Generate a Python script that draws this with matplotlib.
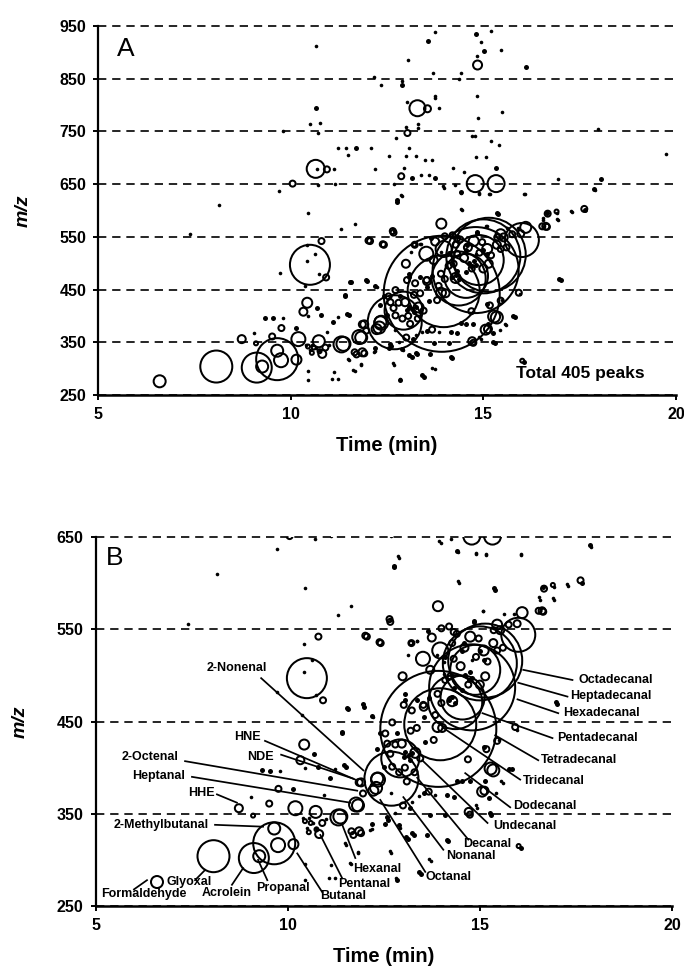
import matplotlib
matplotlib.use('Agg')
from matplotlib import pyplot as plt

plt.rcParams['font.family'] = ['Liberation Sans', 'DejaVu Sans']

# big bubbles: time, m/z, radius
big_time = [8.07, 9.12, 9.65, 10.5, 12.7, 12.93, 13.92, 13.97, 14.36, 14.55, 14.8, 14.88, 15.0, 15.14, 16.0]
big_mz = [304, 302, 318, 497, 388, 410, 442, 447, 471, 476, 487, 506, 513, 516, 544]
big_radius = [16, 15, 21, 20, 27, 19, 58, 36, 27, 22, 43, 25, 37, 37, 17]

# open rings
ring_time = [6.6, 9.26, 9.65, 9.75, 10.15, 13.29, 14.79, 15.33, 10.65, 13.55, 14.85, 13.03, 10.94, 12.87, 10.05,
             16.67, 16.65, 16.62, 13.91, 16.1, 15.97, 16.53, 14.0, 14.2, 14.32, 13.75, 13.22, 13.52, 12.99, 13.71,
             15.45, 15.53, 15.36, 14.75, 14.97, 15.1, 15.45, 14.28, 13.97, 14.32, 15.14, 14.23, 14.28, 13.02, 13.23,
             13.54, 13.36, 13.84, 14.02, 15.92, 12.54, 12.59, 12.97, 13.32, 12.67, 12.72, 13.05, 13.9, 13.53, 12.72,
             12.33, 12.23, 11.86, 11.96, 11.78, 11.37, 11.86, 11.66, 13.0, 14.71, 15.06, 15.28, 15.45, 14.69, 16.01,
             13.67, 16.9, 17.62, 12.65, 12.02, 12.39, 13.21, 12.06, 12.42, 12.67, 10.43, 10.33, 10.92, 9.76, 8.73,
             9.1, 9.52, 10.2, 10.73, 11.32, 11.83, 11.91, 12.35, 12.3, 10.82, 11.71, 11.91, 15.12, 15.35, 15.17,
             14.74, 10.8,
             14.4, 14.6, 14.9, 15.2, 15.35, 15.6, 15.75, 14.5, 14.7, 15.0, 14.1, 13.9, 14.0, 13.8, 13.2,
             13.1, 13.3, 12.9, 12.8, 13.45, 10.45, 10.6, 10.75, 10.55, 10.9]
ring_mz = [276, 304, 334, 316, 317, 794, 651, 651, 679, 793, 876, 747, 678, 665, 651,
           594, 569, 570, 575, 568, 556, 570, 551, 553, 547, 541, 535, 518, 499, 506,
           555, 549, 549, 542, 540, 527, 527, 535, 527, 518, 499, 499, 472, 468, 462,
           466, 443, 457, 443, 444, 437, 426, 426, 416, 415, 449, 400, 444, 468, 401,
           388, 375, 384, 372, 360, 347, 331, 331, 359, 352, 374, 399, 429, 409, 315,
           374, 598, 603, 561, 543, 536, 535, 542, 535, 558, 425, 408, 473, 377, 356,
           348, 361, 356, 352, 346, 359, 384, 387, 378, 328, 327, 329, 375, 397, 420,
           349, 542,
           545, 530, 520, 515, 535, 530, 555, 510, 490, 490, 495, 480, 470, 430, 440,
           385, 395, 395, 425, 410, 342, 340, 333, 330, 340]
ring_radius = [6, 6, 6, 7, 5, 8, 8.5, 8.5, 9, 3.5, 4.5, 3, 3, 3, 3,
               3, 3, 3.5, 5, 5.5, 3.5, 3, 3, 3, 3, 4, 3, 7, 4, 4,
               5, 4, 3, 5, 3, 5, 3, 3, 8, 3, 4, 3, 5, 3, 3,
               4, 3, 3, 4, 3, 3, 3, 4, 5, 3, 3, 3, 5, 3, 3,
               6, 5, 3.5, 3, 7, 7, 4, 3, 3, 4, 5, 6, 3, 3, 2,
               3, 2, 3, 3, 3, 3, 2, 3, 3, 3, 5, 4, 3, 3, 4,
               2, 3, 7, 6, 8, 6, 4, 7, 6, 4, 3, 3, 4, 6, 3,
               3, 3,
               3, 4, 3, 3, 4, 3, 3, 4, 3, 4, 3, 3, 3, 3, 3,
               3, 3, 3, 3, 3, 2, 2, 2, 2, 3]

# larger solid dots
heavy_time = [14.82, 13.57, 15.02, 16.12, 12.9, 10.65, 11.7, 15.32, 13.15, 13.74, 18.06, 12.77, 15.39, 17.65, 14.84,
              14.41, 17.86, 12.76, 15.36, 16.65, 14.84, 13.65, 14.1, 14.62, 14.75, 14.71, 14.8, 14.54, 14.32, 14.28,
              14.19, 14.36, 13.06, 13.06, 13.36, 13.67, 13.54, 11.54, 11.95, 12.2, 11.41, 12.41, 12.85, 13.58, 12.32,
              13.06, 13.15, 13.24, 13.02, 13.19, 12.5, 11.47, 13.18, 13.54, 14.15, 14.32, 13.71, 14.1, 12.59, 12.54,
              12.89, 12.2, 13.08, 13.24, 14.15, 14.41, 14.54, 14.74, 15.13, 15.25, 15.26, 15.77, 15.1, 13.41, 16.97,
              14.18, 16.06, 17.02, 15.83, 15.3, 13.46, 12.85, 12.6, 13.14, 13.29, 13.62, 11.57, 11.98, 11.42, 10.68,
              10.8, 9.34, 9.54, 11.09, 11.51, 10.13, 15.0, 15.1, 14.58, 14.54]
heavy_mz = [934, 921, 902, 872, 839, 795, 719, 681, 662, 662, 660, 617, 593, 600, 559,
            635, 641, 619, 595, 596, 558, 548, 520, 500, 504, 495, 497, 484, 486, 477,
            473, 470, 480, 473, 473, 475, 455, 465, 469, 456, 439, 437, 438, 428, 420,
            417, 414, 416, 412, 408, 401, 403, 356, 372, 370, 368, 349, 349, 346, 339,
            338, 339, 325, 329, 322, 386, 385, 385, 385, 367, 351, 399, 422, 287, 471,
            321, 313, 469, 398, 349, 285, 278, 343, 323, 327, 327, 464, 466, 438, 415,
            401, 397, 396, 389, 401, 377, 526, 517, 535, 526]

# small solid dots
dot_time = [10.65, 13.74, 15.19, 14.93, 15.47, 14.84, 13.04, 13.69, 14.43, 14.36, 12.16, 12.35, 12.9, 13.74, 13.74,
            14.83, 13.02, 13.85, 15.49, 14.87, 10.5, 10.77, 13.31, 13.31, 13.0, 17.98, 9.81, 10.7, 14.7, 14.79,
            12.73, 15.19, 15.4, 11.24, 11.43, 12.08, 11.49, 13.06, 12.55, 12.99, 13.25, 13.48, 13.67, 14.8, 15.08,
            19.73, 11.12, 10.68, 12.2, 12.95, 14.2, 14.49, 13.37, 13.6, 16.95, 17.89, 10.7, 11.14, 9.71, 12.68,
            13.98, 14.26, 14.43, 14.9, 15.17, 16.08, 12.89, 8.15, 14.45, 10.45, 16.92, 17.3, 16.56, 16.93, 11.66,
            11.3, 12.67, 13.95, 14.89, 15.15, 16.06, 12.87, 14.43, 17.27, 16.55, 16.9, 15.09, 15.62, 13.37, 15.08,
            15.9, 13.36, 13.12, 13.89, 14.06, 14.06, 14.8, 7.4, 10.63, 10.43, 10.43, 9.72, 10.73, 10.38, 12.23,
            10.45, 11.24, 11.51, 9.79, 9.05, 10.94, 10.4, 10.55, 10.65, 10.75, 10.5, 11.0, 10.44, 10.44, 11.12,
            11.07, 11.24, 11.51, 11.83, 11.66, 12.2, 12.92, 12.68, 13.74, 12.7, 13.24, 13.41, 13.84, 14.89, 12.8,
            12.15, 15.55, 15.13, 15.42, 15.6, 15.49, 15.96, 14.93, 13.67, 12.65, 12.83, 11.82, 11.63, 11.5]
dot_mz = [913, 939, 940, 920, 905, 894, 886, 861, 860, 849, 854, 839, 846, 817, 813,
          817, 805, 794, 786, 775, 764, 766, 764, 756, 759, 755, 750, 747, 742, 742,
          737, 732, 724, 718, 718, 719, 706, 718, 703, 703, 703, 695, 695, 702, 702,
          708, 678, 678, 678, 681, 681, 673, 668, 668, 660, 639, 648, 651, 637, 651,
          643, 648, 634, 632, 631, 631, 627, 610, 600, 595, 596, 597, 582, 582, 575,
          565, 561, 646, 633, 632, 632, 629, 602, 599, 585, 584, 570, 566, 537, 570,
          566, 537, 522, 522, 515, 502, 517, 556, 517, 504, 534, 482, 479, 457, 455,
          400, 398, 401, 396, 368, 370, 345, 345, 340, 335, 335, 344, 278, 296, 294,
          280, 280, 316, 307, 295, 333, 335, 307, 299, 373, 363, 369, 370, 360, 351,
          332, 385, 385, 373, 383, 430, 441, 356, 301, 310, 280, 309, 297, 318]

# label text, text position, leader line start and end
compound_names = ['Octadecanal', 'Heptadecanal', 'Hexadecanal', 'Pentadecanal', 'Tetradecanal', 'Tridecanal',
                  'Dodecanal', 'Undecanal', 'Decanal', 'Nonanal', 'Octanal', 'Hexanal', 'Pentanal', 'Butanal',
                  'Propanal', 'Acrolein', 'Glyoxal', 'Formaldehyde', '2-Methylbutanal', 'HHE', 'Heptanal',
                  '2-Octenal', 'NDE', 'HNE', '2-Nonenal']
name_x = [17.57, 17.36, 17.17, 17.02, 16.6, 16.11, 15.87, 15.35, 14.57, 14.13, 13.58, 11.71, 11.32, 10.85,
          9.18, 7.75, 6.86, 5.14, 5.46, 7.41, 5.95, 5.69, 8.95, 8.61, 7.88]
name_y = [495, 478, 459, 432, 408, 386, 358, 337, 317, 304, 281, 290, 274, 261,
          270, 264, 276, 263, 338, 372, 391, 412, 412, 433, 508]
line_x0 = [16.13, 16.0, 15.98, 15.07, 15.4, 14.05, 14.62, 13.5, 13.37, 13.01, 12.41, 11.42, 10.85, 10.25,
           9.23, 8.84, 7.85, 6.34, 8.11, 8.16, 7.51, 7.33, 9.83, 9.41, 9.31]
line_y0 = [506, 492, 474, 459, 435, 443, 394, 408, 389, 368, 365, 338, 327, 307,
           300, 291, 289, 278, 338, 371, 390, 407, 414, 429, 497]
line_x1 = [17.41, 17.28, 17.04, 16.89, 16.52, 16.05, 15.79, 15.2, 14.7, 14.05, 13.58, 11.76, 11.42, 10.9,
           9.47, 8.55, 7.59, 6.0, 9.36, 8.68, 11.63, 11.81, 11.71, 11.76, 11.97]
line_y1 = [495, 477, 459, 432, 408, 387, 357, 340, 322, 311, 287, 302, 280, 265,
           278, 273, 278, 268, 336, 362, 362, 375, 388, 387, 397]

xticks = [5, 10, 15, 20]
yticks_a = [250, 350, 450, 550, 650, 750, 850, 950]
yticks_b = [250, 350, 450, 550, 650]

W, H = 684, 973


def area(r):
    # radius in image pixels to scatter area
    return (2 * r * 0.72) ** 2


def draw_peaks(ax):
    ax.scatter(big_time, big_mz, s=[area(r) for r in big_radius], facecolors='none', edgecolors='black', linewidths=1.45, zorder=3)
    ax.scatter(ring_time, ring_mz, s=[area(r) for r in ring_radius], facecolors='none', edgecolors='black', linewidths=1.45, zorder=3)
    ax.scatter(heavy_time, heavy_mz, s=area(2.5), color='black', linewidths=0, zorder=3)
    ax.scatter(dot_time, dot_mz, s=area(1.8), color='black', linewidths=0, zorder=3)


def setup(ax, yticks):
    ax.set_xlim(5, 20)
    ax.set_ylim(yticks[0], yticks[-1])
    ax.set_xticks(xticks)
    ax.set_yticks(yticks)
    ax.spines['top'].set_visible(False)
    ax.spines['right'].set_visible(False)
    ax.spines['left'].set_linewidth(1.6)
    ax.spines['bottom'].set_linewidth(1.8)
    ax.tick_params(width=1.4, length=3.5, pad=5)
    for t in ax.get_xticklabels() + ax.get_yticklabels():
        t.set_fontsize(11.5)
        t.set_fontweight('bold')
    ax.yaxis.grid(True, color='black', linewidth=1.2, linestyle=(0, (5, 3.5)))
    ax.set_axisbelow(True)
    for gl in ax.get_ygridlines():
        gl.set_clip_on(False)
    ax.set_xlabel('Time (min)', fontsize=14.5, fontweight='bold', labelpad=10)
    ax.set_ylabel('m/z', fontsize=14, fontweight='bold', fontstyle='italic', labelpad=20)
    draw_peaks(ax)


fig = plt.figure(figsize=(W / 100, H / 100), dpi=100)
ax_a = fig.add_axes([98 / W, 1 - 395 / H, 578 / W, 369 / H])
ax_b = fig.add_axes([95.5 / W, 1 - 906 / H, 576.5 / W, 369 / H])
setup(ax_a, yticks_a)
setup(ax_b, yticks_b)

ax_a.text(5.5, 906, 'A', fontsize=19, va='center')
ax_a.text(15.85, 290, 'Total 405 peaks', fontsize=12.5, fontweight='bold', va='center', zorder=5)
ax_b.text(5.27, 627, 'B', fontsize=19, va='center')

for name, nx, ny, x0, y0, x1, y1 in zip(compound_names, name_x, name_y, line_x0, line_y0, line_x1, line_y1):
    ax_b.plot([x0, x1], [y0, y1], color='black', linewidth=1.25, zorder=4)
    ax_b.text(nx, ny, name, fontsize=9, fontweight='bold', va='center', zorder=5)

fig.savefig('out.png', dpi=100)
